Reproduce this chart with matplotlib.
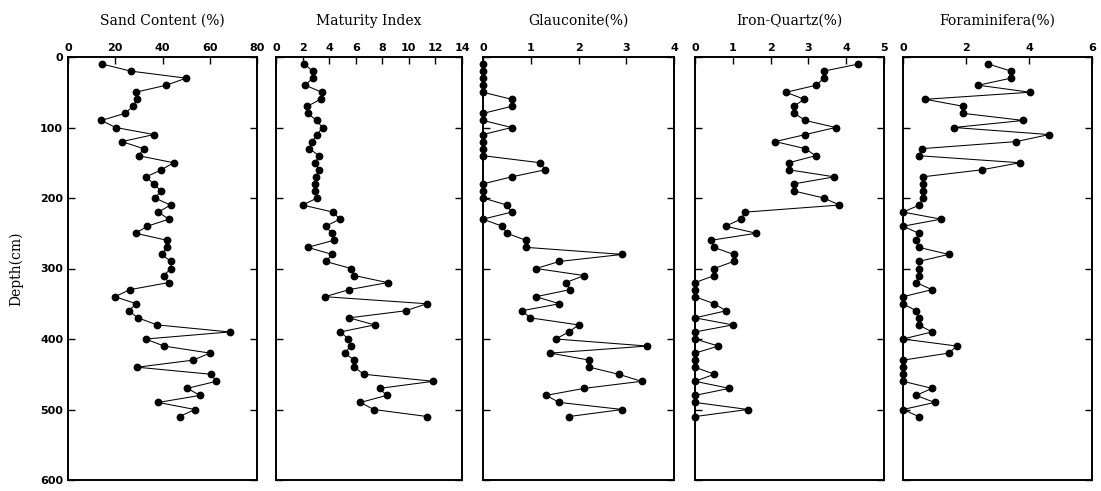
import matplotlib
matplotlib.use('Agg')
import matplotlib.pyplot as plt

# depth of each sample (cm)
depth = [10, 20, 30, 40, 50, 60, 70, 80, 90, 100,
         110, 120, 130, 140, 150, 160, 170, 180, 190, 200,
         210, 220, 230, 240, 250, 260, 270, 280, 290, 300,
         310, 320, 330, 340, 350, 360, 370, 380, 390, 400,
         410, 420, 430, 440, 450, 460, 470, 480, 490, 500, 510]

sand = [14.5, 26.5, 50, 41.6, 28.6, 29.3, 27.5, 24.1, 14.1, 20.2,
        36.4, 22.8, 32, 29.9, 44.7, 39.5, 33.1, 36.2, 39.5, 36.8,
        43.4, 38.2, 42.7, 33.6, 28.6, 41.9, 41.9, 39.6, 43.6, 43.6,
        40.5, 42.6, 26.2, 19.9, 28.9, 25.7, 29.6, 37.7, 68.4, 32.9,
        40.6, 60.1, 52.9, 29.3, 60.5, 62.8, 50.5, 55.9, 38.2, 53.7, 47.2]

maturity = [2.14, 2.75, 2.75, 2.2, 3.45, 3.35, 2.35, 2.4, 3.05, 3.5,
            3.1, 2.7, 2.5, 3.25, 2.95, 3.25, 3.0, 2.95, 2.95, 3.1,
            2.0, 4.3, 4.8, 3.75, 4.18, 4.35, 2.38, 4.23, 3.73, 5.65,
            5.9, 8.4, 5.5, 3.69, 11.35, 9.75, 5.5, 7.42, 4.84, 5.45,
            5.63, 5.16, 5.9, 5.9, 6.6, 11.84, 7.8, 8.33, 6.36, 7.35, 11.4]

glauconite = [0, 0, 0, 0, 0, 0.6, 0.6, 0, 0, 0.6,
              0, 0, 0, 0, 1.2, 1.3, 0.6, 0, 0, 0,
              0.5, 0.6, 0, 0.4, 0.5, 0.9, 0.9, 2.92, 1.6, 1.11,
              2.12, 1.73, 1.82, 1.11, 1.6, 0.81, 0.99, 2.0, 1.8, 1.52,
              3.44, 1.41, 2.23, 2.23, 2.84, 3.32, 2.12, 1.32, 1.6, 2.92, 1.8]

iron_quartz = [4.32, 3.41, 3.41, 3.21, 2.41, 2.89, 2.61, 2.63, 2.92, 3.72,
               2.92, 2.12, 2.92, 3.19, 2.48, 2.48, 3.69, 2.61, 2.61, 3.41,
               3.82, 1.33, 1.21, 0.81, 1.62, 0.42, 0.5, 1.02, 1.02, 0.51,
               0.51, 0, 0, 0, 0.51, 0.82, 0, 1.0, 0, 0,
               0.62, 0, 0, 0, 0.51, 0, 0.91, 0, 0, 1.4, 0]

foraminifera = [2.71, 3.43, 3.43, 2.39, 4.03, 0.71, 1.92, 1.92, 3.82, 1.62,
                4.64, 3.59, 0.6, 0.5, 3.71, 2.5, 0.62, 0.62, 0.62, 0.62,
                0.52, 0, 1.21, 0, 0.5, 0.42, 0.5, 1.45, 0.5, 0.5,
                0.5, 0.42, 0.92, 0, 0, 0.42, 0.5, 0.5, 0.92, 0,
                1.71, 1.45, 0, 0, 0, 0, 0.92, 0.42, 1.0, 0, 0.5]

titles = ['Sand Content (%)', 'Maturity Index', 'Glauconite(%)',
          'Iron-Quartz(%)', 'Foraminifera(%)']
x_limits = [80, 14, 4, 5, 6]
x_ticks = [[0, 20, 40, 60, 80], [0, 2, 4, 6, 8, 10, 12, 14],
           [0, 1, 2, 3, 4], [0, 1, 2, 3, 4, 5], [0, 2, 4, 6]]
depth_ticks = [0, 100, 200, 300, 400, 500, 600]

W, H = 1101, 491
# panel left edges / widths in pixels
lefts = [68, 276, 483, 695, 903]
widths = [189, 186, 191, 189, 189]
top_px, bottom_px = 57, 480


def draw_panel(fig, i, values):
    ax = fig.add_axes([lefts[i] / W, (H - bottom_px) / H,
                       widths[i] / W, (bottom_px - top_px) / H])
    ax.plot(values, depth, color='black', lw=0.75, marker='o', ms=4.6,
            mfc='black', mec='black', clip_on=False)
    ax.set_xlim(0, x_limits[i])
    ax.set_ylim(600, 0)
    ax.set_xticks(x_ticks[i])
    ax.set_yticks(depth_ticks)
    ax.xaxis.tick_top()
    ax.tick_params(axis='x', direction='in', length=5, width=1.0, pad=3,
                   labelsize=8)
    ax.tick_params(axis='y', direction='in', length=5, width=1.0,
                   left=True, right=True, labelleft=(i == 0), labelsize=8)
    for lab in ax.get_xticklabels() + ax.get_yticklabels():
        lab.set_fontweight('bold')
    for sp in ax.spines.values():
        sp.set_linewidth(1.4)
    ax.set_title(titles[i], fontsize=10, family='DejaVu Serif', pad=23)
    if i == 0:
        ax.set_ylabel('Depth(cm)', fontsize=10, family='DejaVu Serif',
                      labelpad=12)
    return ax


def main():
    fig = plt.figure(figsize=(W / 100, H / 100), dpi=100)
    series = [sand, maturity, glauconite, iron_quartz, foraminifera]
    for i, vals in enumerate(series):
        draw_panel(fig, i, vals)
    fig.savefig('out.png', dpi=100, facecolor='white')


if __name__ == '__main__':
    main()
